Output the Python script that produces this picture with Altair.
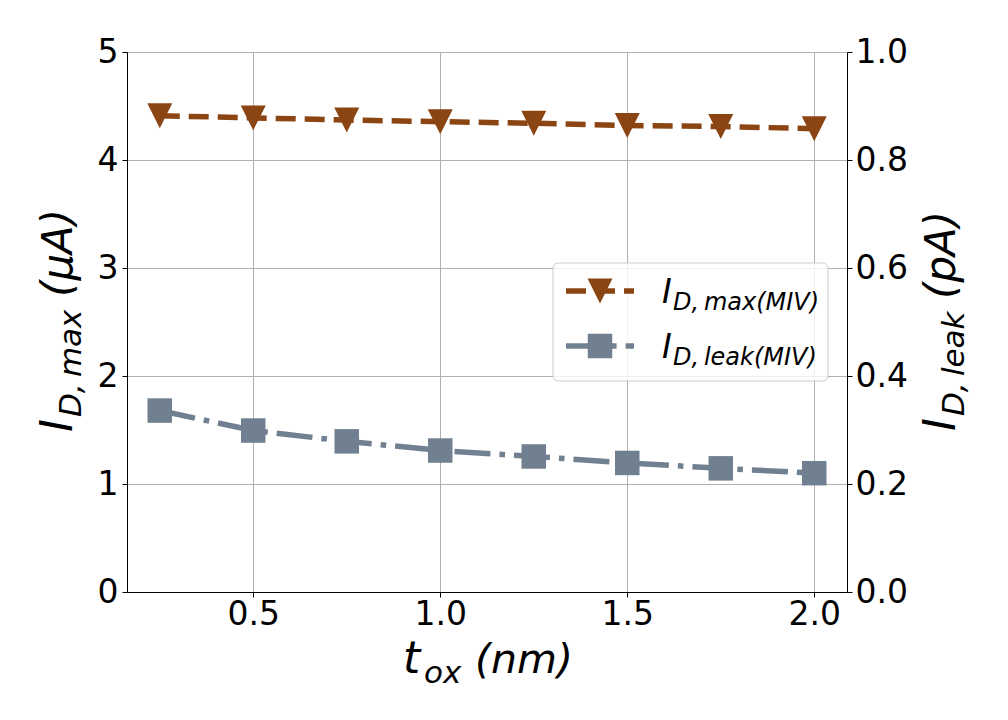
import altair as alt
import pandas as pd

# ---- data ----
t_ox = [0.25, 0.5, 0.75, 1.0, 1.25, 1.5, 1.75, 2.0]
i_max = [4.41, 4.39, 4.37, 4.355, 4.34, 4.32, 4.31, 4.29]          # uA (left axis)
i_leak = [0.336, 0.299, 0.279, 0.262, 0.251, 0.239, 0.229, 0.220]  # pA (right axis)
x_ticks = [0.5, 1.0, 1.5, 2.0]
left_ticks = [0, 1, 2, 3, 4, 5]
right_ticks = [0.0, 0.2, 0.4, 0.6, 0.8, 1.0]

df = pd.DataFrame({"t": t_ox, "imax": i_max, "ileak": i_leak})
one = pd.DataFrame({"k": [0]})

BROWN = "#8B4513"
GRAY = "#708090"
FONT = "DejaVu Sans"
TRI = "M-1,-1L1,-1L0,1Z"

axis_common = dict(
    labelFont=FONT, labelFontSize=33, labelColor="black",
    tickColor="black", tickSize=5, tickWidth=1,
    domain=True, domainColor="black", domainWidth=1,
    gridColor="#b0b0b0", gridWidth=1, title=None,
)

x_enc = alt.X(
    "t:Q",
    scale=alt.Scale(domain=[0.1625, 2.0875], nice=False, zero=False),
    axis=alt.Axis(values=x_ticks, format=".1f", grid=True, labelPadding=1,
                  **axis_common),
)
y_left_scale = alt.Scale(domain=[0, 5], nice=False, zero=True)
y_right_scale = alt.Scale(domain=[0, 1], nice=False, zero=True)

base = alt.Chart(df)

max_line = base.mark_line(color=BROWN, strokeWidth=5.5, strokeDash=[20, 9]).encode(
    x=x_enc,
    y=alt.Y("imax:Q", scale=y_left_scale,
            axis=alt.Axis(values=left_ticks, format="d", orient="left", grid=True,
                          labelPadding=4, **axis_common)),
)
max_pts = base.mark_point(shape=TRI, size=625, filled=True, color=BROWN, opacity=1).encode(
    x=x_enc, y=alt.Y("imax:Q", scale=y_left_scale, axis=None)
)
leak_line = base.mark_line(color=GRAY, strokeWidth=5.5, strokeDash=[36, 9, 5.6, 9]).encode(
    x=x_enc,
    y=alt.Y("ileak:Q", scale=y_right_scale,
            axis=alt.Axis(values=right_ticks, format=".1f", orient="right", grid=False,
                          labelPadding=3, **axis_common)),
)
leak_pts = base.mark_point(shape="square", size=600, filled=True, color=GRAY, opacity=1).encode(
    x=x_enc, y=alt.Y("ileak:Q", scale=y_right_scale, axis=None)
)

dec = alt.Chart(one)


def txt(s, x, y, size, angle=0):
    kw = dict(font=FONT, fontSize=size, fontStyle="italic", color="black",
              align="left", baseline="alphabetic")
    if angle:
        kw["angle"] = angle
    return dec.mark_text(**kw).encode(x=alt.value(x), y=alt.value(y), text=alt.value(s))


TF, TS = 44, 31
TH = "\u2009"  # thin space after the comma, as in mathtext
# x-axis title  t_ox (nm)
x_title = [
    txt("t", 276, 621, TF),
    txt("ox", 297, 631, TS),
    txt("(nm)", 348, 621, 41),
]
# left title  I_D,max (uA)
l_title = [
    txt("I", -55, 380, TF, 270),
    txt("D," + TH + "max", -46, 365, TS, 270),
    txt("(μA)", -55, 245, 42, 270),
]
# right title  I_D,leak (pA)
r_title = [
    txt("I", 828, 379, TF, 270),
    txt("D," + TH + "leak", 837, 364, TS, 270),
    txt("(pA)", 828, 247, 42, 270),
]

# legend
leg_box = dec.mark_rect(fill="white", fillOpacity=0.8, stroke="#cccccc", strokeWidth=1,
                        cornerRadius=5).encode(
    x=alt.value(426), x2=alt.value(701), y=alt.value(211), y2=alt.value(329))
leg = [
    leg_box,
    dec.mark_rule(color=BROWN, strokeWidth=5.5, strokeDash=[20, 9]).encode(
        x=alt.value(439), x2=alt.value(507), y=alt.value(239)),
    dec.mark_point(shape=TRI, size=625, filled=True, color=BROWN, opacity=1).encode(
        x=alt.value(473), y=alt.value(239)),
    dec.mark_rule(color=GRAY, strokeWidth=5.5, strokeDash=[36, 9, 5.6, 9]).encode(
        x=alt.value(439), x2=alt.value(507), y=alt.value(294)),
    dec.mark_point(shape="square", size=600, filled=True, color=GRAY, opacity=1).encode(
        x=alt.value(473), y=alt.value(294)),
    txt("I", 535, 251, 33),
    txt("D," + TH + "max(MIV)", 546, 258, 24),
    txt("I", 535, 306, 33),
    txt("D," + TH + "leak(MIV)", 546, 313, 24),
]

chart = alt.layer(
    max_line, max_pts, leak_line, leak_pts, *leg, *x_title, *l_title, *r_title
).resolve_scale(y="independent").properties(
    width=720, height=540,
    autosize=alt.AutoSizeParams(type="none"),
    padding={"left": 119, "top": 44, "right": 145, "bottom": 120},
).configure_view(stroke="black", strokeWidth=1).configure(background="white")

chart.save("out.html", embed_options={"renderer": "svg", "actions": False})
